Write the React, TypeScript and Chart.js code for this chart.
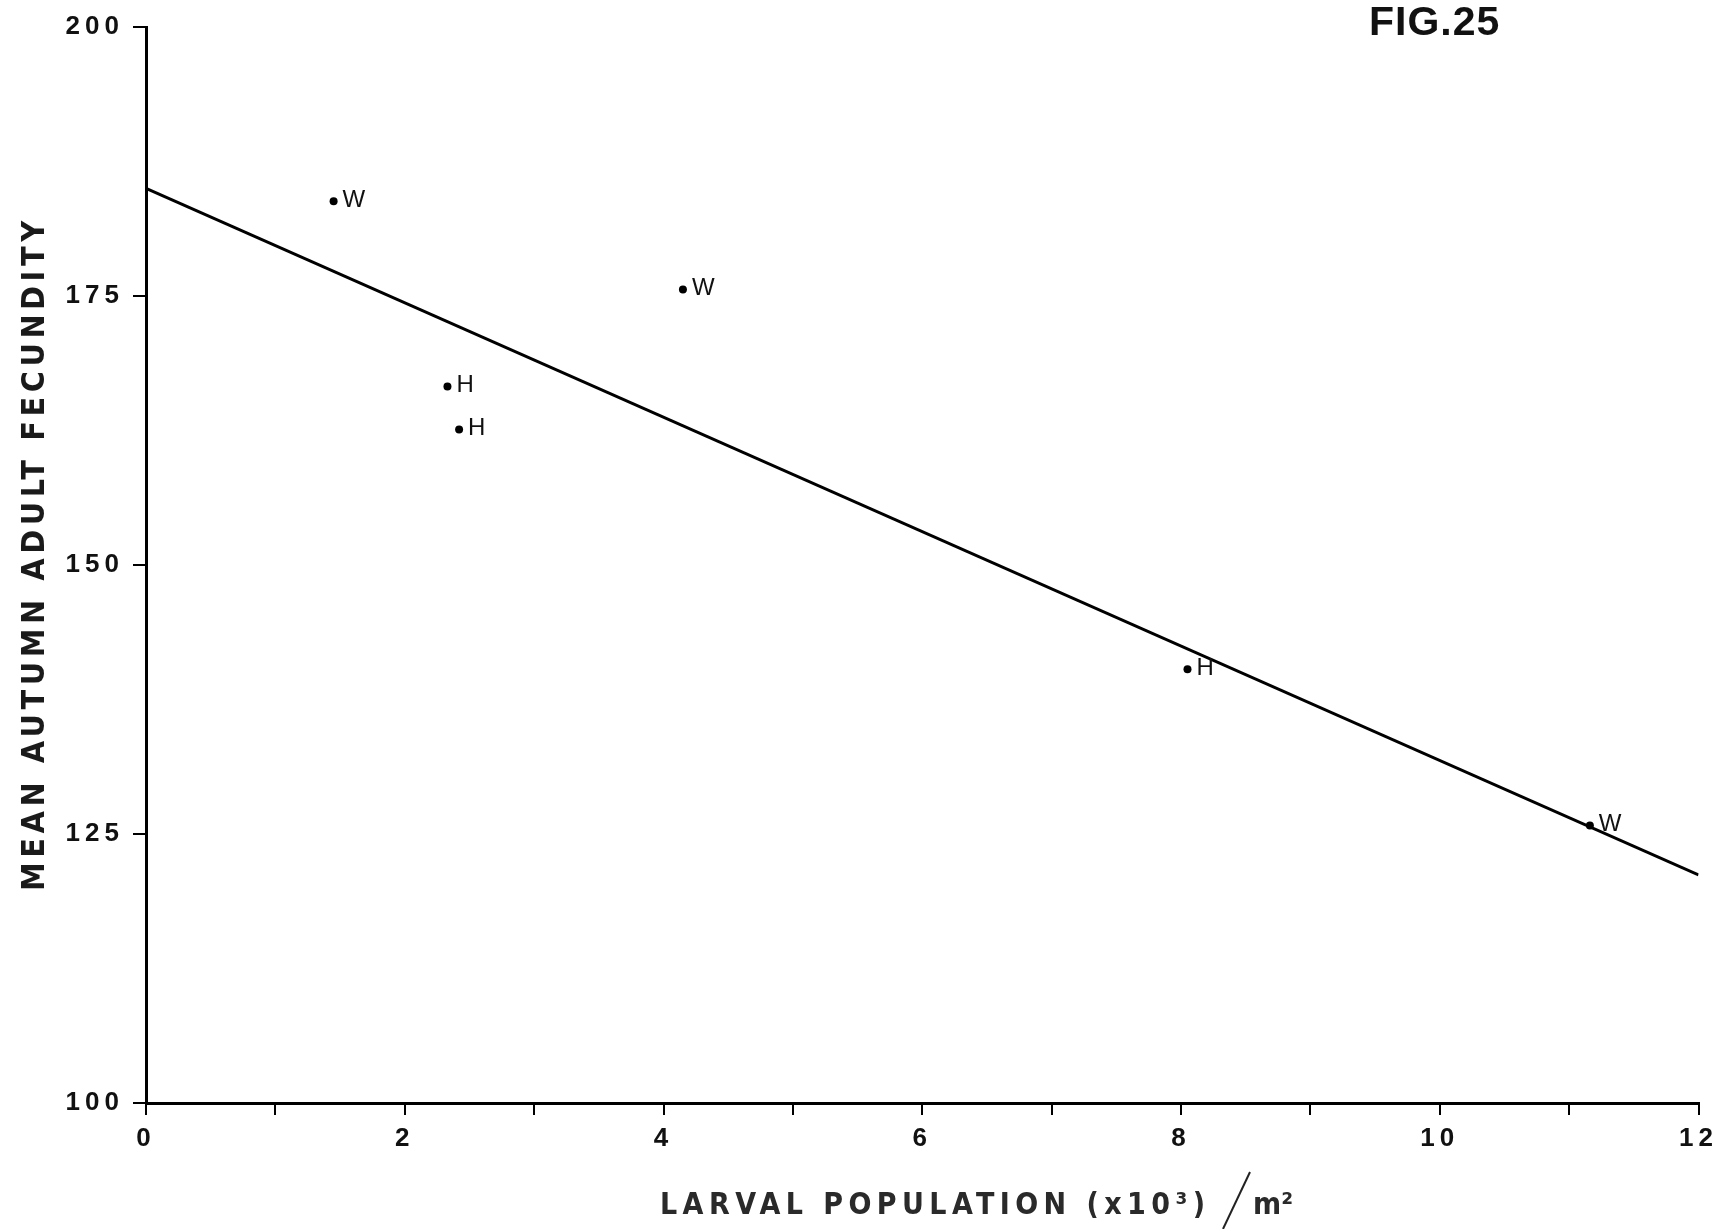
import React, { useEffect, useRef } from "react";
import { Chart, registerables } from "chart.js";

Chart.register(...registerables);

// ---- data ----
const pointX = [1.45, 4.15, 2.33, 2.42, 8.05, 11.16];
const pointY = [183.8, 175.6, 166.6, 162.6, 140.3, 125.8];
const pointLabels = ["W", "W", "H", "H", "H", "W"];
const fitX = [0, 12];
const fitY = [185, 121.2];
const xTickLabels = [0, 2, 4, 6, 8, 10, 12];
const yTickLabels = [100, 125, 150, 175, 200];
const figTitle = "FIG.25";
const xTitle = "LARVAL POPULATION (x10³)";
const xUnit = "m²";
const yTitle = "MEAN AUTUMN ADULT FECUNDITY";

const W = 1721;
const H = 1229;

function drawSpaced(ctx: CanvasRenderingContext2D, text: string, x: number, y: number, targetWidth: number) {
  ctx.letterSpacing = "0px";
  const w = ctx.measureText(text).width;
  const n = Math.max(1, [...text].length - 1);
  const sp = Math.max(0, (targetWidth - w) / n);
  ctx.letterSpacing = sp + "px";
  ctx.fillText(text, x, y);
  ctx.letterSpacing = "0px";
}

const annotPlugin = {
  id: "annot",
  beforeDraw(chart: any) {
    chart.ctx.letterSpacing = "5px";
  },
  beforeDatasetsDraw(chart: any) {
    chart.ctx.letterSpacing = "0px";
  },
  afterDraw(chart: any) {
    const ctx: CanvasRenderingContext2D = chart.ctx;
    ctx.save();
    ctx.fillStyle = "#111";
    // point labels
    const meta = chart.getDatasetMeta(1);
    ctx.font = '24px "Liberation Sans", Arial, sans-serif';
    ctx.textAlign = "left";
    ctx.textBaseline = "middle";
    meta.data.forEach((el: any, i: number) => {
      ctx.fillText(pointLabels[i], el.x + 9, el.y - 1);
    });

    // figure title
    ctx.font = 'bold 41px "Liberation Sans", Arial, sans-serif';
    ctx.textBaseline = "alphabetic";
    ctx.letterSpacing = "1px";
    ctx.fillText(figTitle, 1369, 35);
    ctx.letterSpacing = "0px";

    // y title
    ctx.save();
    ctx.translate(44, 891);
    ctx.rotate(-Math.PI / 2);
    ctx.font = 'bold 32px "Liberation Sans Narrow", "DejaVu Sans Condensed", "DejaVu Sans", sans-serif';
    ctx.textBaseline = "alphabetic";
    ctx.fillStyle = "#1a1a1a";
    drawSpaced(ctx, yTitle, 0, 0, 670);
    ctx.restore();

    // x title
    ctx.font = 'bold 30px "Liberation Sans Narrow", "DejaVu Sans Condensed", "DejaVu Sans", sans-serif';
    ctx.fillStyle = "#2a2a2a";
    ctx.textBaseline = "alphabetic";
    drawSpaced(ctx, xTitle, 660, 1214, 545);
    // big slash
    ctx.strokeStyle = "#222";
    ctx.lineWidth = 2;
    ctx.beginPath();
    ctx.moveTo(1223, 1229);
    ctx.lineTo(1250, 1172);
    ctx.stroke();
    drawSpaced(ctx, xUnit, 1253, 1214, 40);
    ctx.restore();
  },
};

export default function App() {
  const ref = useRef<HTMLCanvasElement | null>(null);
  useEffect(() => {
    if (!ref.current) return;
    const chart = new Chart(ref.current, {
      type: "scatter",
      data: {
        datasets: [
          {
            type: "line",
            data: fitX.map((x, i) => ({ x, y: fitY[i] })),
            borderColor: "#000",
            borderWidth: 3,
            pointRadius: 0,
            fill: false,
          } as any,
          {
            data: pointX.map((x, i) => ({ x, y: pointY[i] })),
            pointRadius: 4,
            pointBackgroundColor: "#000",
            pointBorderColor: "#000",
            pointBorderWidth: 0,
          },
        ],
      },
      options: {
        responsive: false,
        animation: false,
        layout: { padding: { top: 27, right: 15, left: 0, bottom: 0 } },
        plugins: { legend: { display: false }, tooltip: { enabled: false } },
        scales: {
          x: {
            type: "linear",
            min: 0,
            max: 12,
            afterFit: (s: any) => {
              s.height = 126;
            },
            ticks: {
              stepSize: 1,
              autoSkip: false,
              maxRotation: 0,
              padding: 8,
              color: "#111",
              font: { family: '"Liberation Sans", Arial, sans-serif', size: 26, weight: "bold" },
              callback: (v: any) => (xTickLabels.includes(Number(v)) ? String(v) : ""),
            },
            grid: { drawOnChartArea: false, drawTicks: true, tickLength: 12, color: "#000", lineWidth: 2 },
            border: { display: true, color: "#000", width: 3 },
          },
          y: {
            type: "linear",
            min: 100,
            max: 200,
            afterFit: (s: any) => {
              s.width = 146;
            },
            ticks: {
              stepSize: 25,
              padding: 9,
              color: "#111",
              font: { family: '"Liberation Sans", Arial, sans-serif', size: 26, weight: "bold" },
              callback: (v: any) => (yTickLabels.includes(Number(v)) ? String(v) : ""),
            },
            grid: { drawOnChartArea: false, drawTicks: true, tickLength: 13, color: "#000", lineWidth: 2 },
            border: { display: true, color: "#000", width: 3 },
          },
        },
      },
      plugins: [annotPlugin],
    });
    return () => chart.destroy();
  }, []);
  return (
    <div style={{ position: "absolute", left: 0, top: 0, width: W, height: H, background: "#fff" }}>
      <canvas ref={ref} width={W} height={H} style={{ display: "block" }} />
    </div>
  );
}
